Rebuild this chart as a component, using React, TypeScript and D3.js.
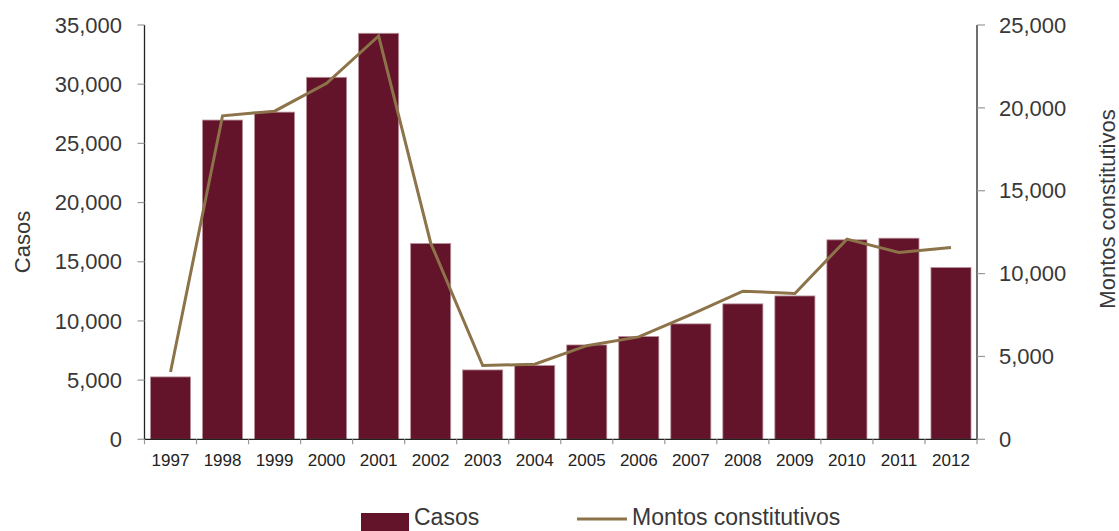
import React from "react";
import * as d3 from "d3";

const years = ["1997","1998","1999","2000","2001","2002","2003","2004","2005","2006","2007","2008","2009","2010","2011","2012"];
const casos = [5270,26970,27640,30580,34300,16540,5860,6230,7970,8680,9750,11440,12110,16850,16990,14510];
const montos = [4060,19520,19800,21480,24340,11850,4450,4530,5650,6180,7530,8940,8800,12080,11270,11580];
const leftTicks = [0,5000,10000,15000,20000,25000,30000,35000];
const rightTicks = [0,5000,10000,15000,20000,25000];

const W = 1119, H = 531;
const left = 144.5, right = 977, top = 25, bottom = 439.3;
const FONT = "'Liberation Sans', Arial, Helvetica, sans-serif";
const BAR = "#63142a";
const LINE = "#8c7349";
const TXT = "#383838";

export default function App() {
  const x = d3.scaleBand<string>().domain(years).range([left, right]).paddingInner(0.23).paddingOuter(0.115);
  const xb = d3.scaleBand<string>().domain(years).range([left, right]);
  const yL = d3.scaleLinear().domain([0, 35000]).range([bottom, top]);
  const yR = d3.scaleLinear().domain([0, 25000]).range([bottom, top]);
  const fmt = d3.format(",");
  const line = d3.line<number>()
    .x((_, i) => (xb(years[i]) as number) + xb.bandwidth() / 2)
    .y((d) => yR(d));

  return (
    <svg width={W} height={H} style={{ position: "absolute", left: 0, top: 0 }} fontFamily={FONT}>
      <rect x={0} y={0} width={W} height={H} fill="#fff" />
      {years.map((yr, i) => (
        <rect key={yr} x={x(yr)} y={yL(casos[i])} width={x.bandwidth()} height={bottom - yL(casos[i])}
          fill={BAR} stroke="#b7909a" strokeWidth={0.8} />
      ))}
      <path d={line(montos) || ""} fill="none" stroke={LINE} strokeWidth={3} strokeLinejoin="miter" />

      {/* left axis */}
      <line x1={left} x2={left} y1={top} y2={bottom} stroke="#222" strokeWidth={1.3} />
      {leftTicks.map((t) => (
        <g key={"l" + t}>
          <line x1={left - 7} x2={left} y1={yL(t)} y2={yL(t)} stroke="#999" strokeWidth={1.2} />
          <text x={122} y={yL(t)} dy="0.35em" textAnchor="end" fontSize={22} fill={TXT}>{fmt(t)}</text>
        </g>
      ))}
      {/* right axis */}
      <line x1={right} x2={right} y1={top} y2={bottom} stroke="#222" strokeWidth={1.3} />
      {rightTicks.map((t) => (
        <g key={"r" + t}>
          <line x1={right} x2={right + 8} y1={yR(t)} y2={yR(t)} stroke="#999" strokeWidth={1.2} />
          <text x={999} y={yR(t)} dy="0.35em" textAnchor="start" fontSize={22} fill={TXT}>{fmt(t)}</text>
        </g>
      ))}
      {/* bottom axis */}
      <line x1={left} x2={right} y1={bottom} y2={bottom} stroke="#222" strokeWidth={1.3} />
      {years.concat(["end"]).map((yr, i) => {
        const xx = left + i * xb.bandwidth();
        return <line key={"t" + i} x1={xx} x2={xx} y1={bottom} y2={bottom + 5} stroke="#999" strokeWidth={1.2} />;
      })}
      {years.map((yr) => (
        <text key={"x" + yr} x={(xb(yr) as number) + xb.bandwidth() / 2} y={466} textAnchor="middle" fontSize={17} fill="#222">{yr}</text>
      ))}

      {/* axis titles */}
      <text transform={`translate(30,242) rotate(-90)`} textAnchor="middle" fontSize={22} fill={TXT}>Casos</text>
      <text transform={`translate(1115,209) rotate(-90)`} textAnchor="middle" fontSize={22} fill={TXT}>Montos constitutivos</text>

      {/* legend */}
      <rect x={361} y={513} width={48} height={18} fill={BAR} />
      <text x={414} y={525} fontSize={23} fill={TXT}>Casos</text>
      <line x1={577} x2={627} y1={519} y2={519} stroke={LINE} strokeWidth={3} />
      <text x={632} y={525} fontSize={23} fill={TXT}>Montos constitutivos</text>
    </svg>
  );
}
